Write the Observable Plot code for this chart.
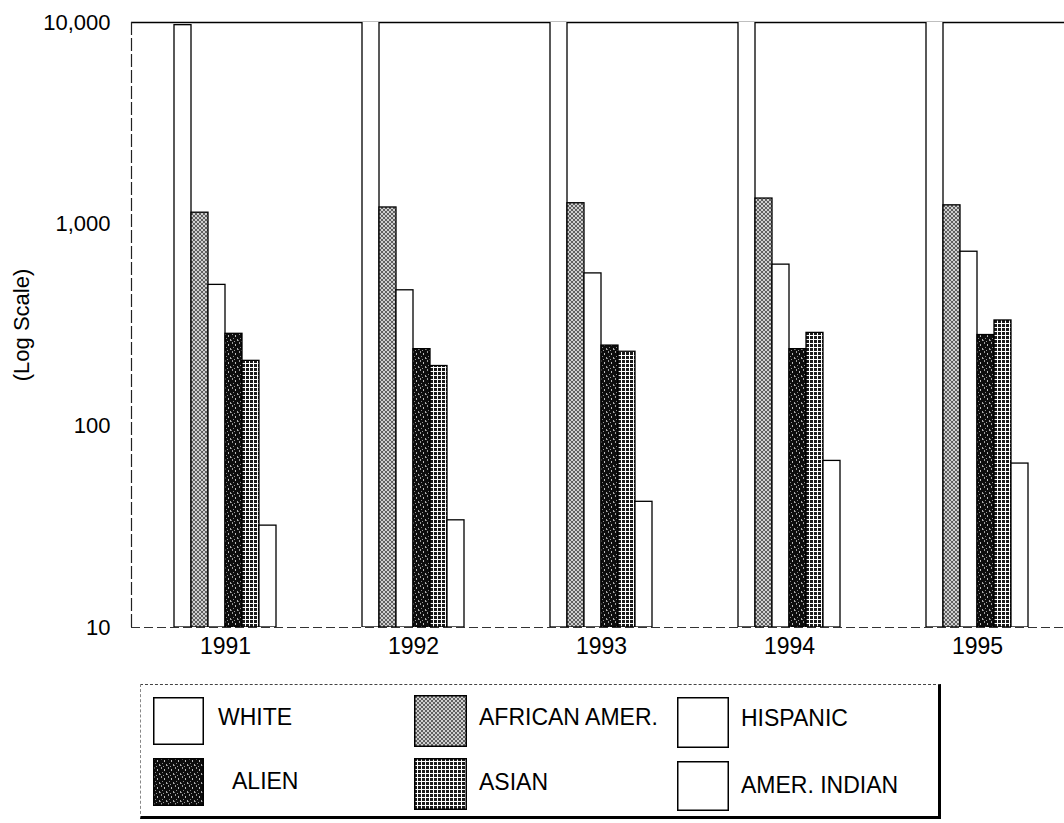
<!DOCTYPE html>
<html>
<head>
<meta charset="utf-8">
<script src="https://cdn.jsdelivr.net/npm/d3@7"></script>
<script src="https://cdn.jsdelivr.net/npm/@observablehq/plot@0.6"></script>
<style>
  body { margin: 0; background: #fff; font-family: "Liberation Sans", Arial, sans-serif; }
  #chart { position: relative; width: 1064px; height: 823px; overflow: hidden; }
  #chart > svg { position: absolute; left: 0; top: 0; }
  .legend { position: absolute; left: 140px; top: 684px; width: 797px; height: 131px;
            border-top: 1px dashed #444; border-left: 1px dashed #888;
            border-right: 3px solid #000; border-bottom: 3px solid #000; box-sizing: content-box; }
  .sw { position: absolute; }
  .lab { position: absolute; font-size: 23px; color: #000; line-height: 1; transform: translateY(-50%); white-space: nowrap; }
</style>
</head>
<body>
<div id="chart"></div>
<script>
// ---- data ----
const years = ["1991", "1992", "1993", "1994", "1995"];
const series = ["WHITE", "AFRICAN AMER.", "HISPANIC", "ALIEN", "ASIAN", "AMER. INDIAN"];
const white      = [9700, 10500, 10800, 11000, 11500];
const african    = [1140, 1210, 1270, 1340, 1240];
const hispanic   = [500, 470, 570, 630, 730];
const alien      = [286, 240, 250, 240, 282];
const asian      = [210, 198, 233, 289, 333];
const amerIndian = [32, 34, 42, 67, 65];
const yTicks = [10, 100, 1000, 10000];

const bySeries = [white, african, hispanic, alien, asian, amerIndian];
const rows = years.flatMap((yr, i) => series.map((s, j) => ({year: yr, series: s, value: bySeries[j][i]})));
const fills = ["#fff", "url(#pAfr)", "#fff", "url(#pAlien)", "url(#pAsian)", "#fff"];
const yMin = yTicks[0], yMax = yTicks[yTicks.length - 1];

const font = '"Liberation Sans", Arial, sans-serif';
const dims = {width: 1064, height: 665, marginLeft: 131, marginRight: -7, marginTop: 22, marginBottom: 38};
const bandOpts = {domain: years, paddingInner: 0.447, paddingOuter: 0.2235};
const yOpts = {type: "log", domain: [yMin, yMax]};
const style = {fontFamily: font, fontSize: "21px", color: "#000", background: "transparent", overflow: "hidden"};

// axes + frame
const axes = Plot.plot({
  ...dims, style,
  x: {type: "band", ...bandOpts, label: null},
  y: yOpts,
  marks: [
    Plot.ruleY([yMax], {stroke: "#000", strokeWidth: 1.6}),
    Plot.ruleY([yMin], {stroke: "#333", strokeWidth: 1.2, strokeDasharray: "9,4"}),
    Plot.frame({anchor: "left", stroke: "#222", strokeWidth: 1.2, strokeDasharray: "12,4"}),
    Plot.axisY({ticks: yTicks, tickFormat: d3.format(","), tickSize: 0, tickPadding: 21,
      fontSize: 22, label: "(Log Scale)", labelAnchor: "center", labelArrow: "none", labelOffset: 118}),
    Plot.axisX({anchor: "bottom", tickSize: 0, tickPadding: 10, fontSize: 23, label: null})
  ]
});

// bars (faceted by year)
const bars = Plot.plot({
  ...dims, style,
  fx: {...bandOpts, axis: null},
  x: {domain: series, padding: 0, axis: null},
  y: {...yOpts, axis: null},
  color: {domain: series, range: fills},
  marks: [
    Plot.barY(rows, {fx: "year", x: "series", y1: () => yMin, y2: "value", fill: "series",
      stroke: "#000", strokeWidth: 1.3, clip: true})
  ]
});

// pattern fills
const defs = d3.select(bars).insert("defs", ":first-child");
const pa = defs.append("pattern").attr("id", "pAfr").attr("patternUnits", "userSpaceOnUse").attr("width", 4).attr("height", 4);
pa.append("rect").attr("width", 4).attr("height", 4).attr("fill", "#cfcfcf");
pa.append("path").attr("d", "M0,0L4,4M4,0L0,4").attr("stroke", "#444").attr("stroke-width", 0.8);
const pl = defs.append("pattern").attr("id", "pAlien").attr("patternUnits", "userSpaceOnUse").attr("width", 7).attr("height", 9);
pl.append("rect").attr("width", 7).attr("height", 9).attr("fill", "#0d0d0d");
[[1,0,1,2,"#9a9a9a"],[4,2,1,2,"#bbb"],[2,5,1,1,"#888"],[6,6,1,2,"#aaa"],[0,7,1,1,"#777"],[3,8,1,1,"#999"]]
  .forEach(([x, y, w, h, c]) => pl.append("rect").attr("x", x).attr("y", y).attr("width", w).attr("height", h).attr("fill", c));
const ps = defs.append("pattern").attr("id", "pAsian").attr("patternUnits", "userSpaceOnUse").attr("width", 4).attr("height", 4);
ps.append("rect").attr("width", 4).attr("height", 4).attr("fill", "#fff");
ps.append("rect").attr("width", 3).attr("height", 3).attr("fill", "#1a1a1a");

const chart = document.getElementById("chart");
chart.appendChild(axes);
chart.appendChild(bars);

// legend
const legend = document.createElement("div");
legend.className = "legend";
const items = [
  {i: 0, sx: 12, sy: 12, w: 51, h: 48, tx: 77, ty: 32},
  {i: 1, sx: 273, sy: 10, w: 53, h: 52, tx: 338, ty: 32},
  {i: 2, sx: 536, sy: 12, w: 52, h: 51, tx: 600, ty: 33},
  {i: 3, sx: 12, sy: 73, w: 51, h: 48, tx: 91, ty: 96},
  {i: 4, sx: 273, sy: 73, w: 53, h: 52, tx: 338, ty: 97},
  {i: 5, sx: 536, sy: 76, w: 52, h: 50, tx: 600, ty: 100}
];
items.forEach(it => {
  const s = d3.create("svg").attr("class", "sw").attr("width", it.w).attr("height", it.h)
    .style("left", it.sx + "px").style("top", it.sy + "px");
  s.append("rect").attr("x", 0.75).attr("y", 0.75).attr("width", it.w - 1.5).attr("height", it.h - 1.5)
    .attr("fill", fills[it.i]).attr("stroke", "#000").attr("stroke-width", 1.5);
  legend.appendChild(s.node());
  const t = document.createElement("div");
  t.className = "lab";
  t.style.left = it.tx + "px";
  t.style.top = it.ty + "px";
  t.textContent = series[it.i];
  legend.appendChild(t);
});
chart.appendChild(legend);
</script>
</body>
</html>
